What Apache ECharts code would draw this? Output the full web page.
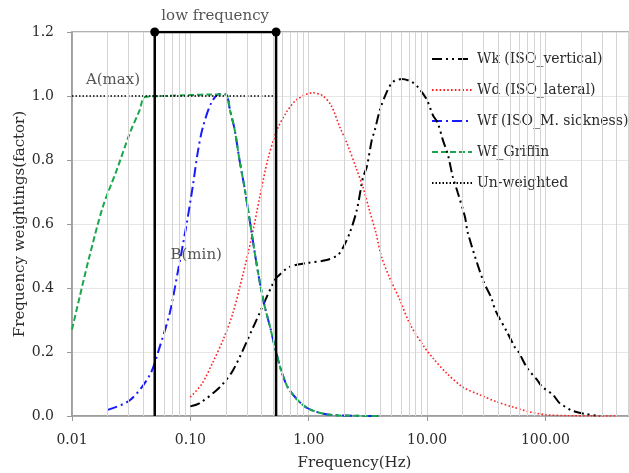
<!DOCTYPE html>
<html><head><meta charset="utf-8">
<script src="https://cdn.jsdelivr.net/npm/echarts@6/dist/echarts.min.js"></script>
<style>html,body{margin:0;padding:0;background:#fff}#c{width:629px;height:473px}</style>
</head><body><div id="c"></div>
<script>
// ---- data ----
const wkFreq = [0.1, 0.12, 0.177, 0.23, 0.34, 0.5, 0.54, 0.69, 0.96, 1.42, 1.76, 1.94, 2.22, 2.55, 2.87, 3.1, 3.41, 3.62, 3.99, 4.57, 5.14, 6.12, 7.44, 8.36, 9.96, 11.2, 12.3, 13.6, 15.0, 16.5, 18.2, 20.9, 22.1, 29.6, 34.9, 37.7, 47.9, 55, 60, 70, 85, 94, 116, 131, 148, 170, 220, 290];
const wkVal  = [0.03, 0.04, 0.09, 0.144, 0.278, 0.415, 0.434, 0.466, 0.478, 0.4875, 0.503, 0.525, 0.572, 0.644, 0.744, 0.78, 0.862, 0.894, 0.956, 1.013, 1.044, 1.053, 1.044, 1.028, 0.988, 0.94, 0.916, 0.862, 0.816, 0.747, 0.697, 0.622, 0.572, 0.425, 0.369, 0.331, 0.259, 0.216, 0.197, 0.15, 0.113, 0.091, 0.066, 0.041, 0.028, 0.016, 0.006, 0];
const wdFreq = [0.1, 0.125, 0.154, 0.19, 0.228, 0.277, 0.33, 0.386, 0.45, 0.54, 0.65, 0.79, 1.08, 1.32, 1.55, 1.83, 2.1, 2.55, 2.87, 3.25, 3.7, 4.1, 4.85, 5.9, 7.1, 9.2, 11.2, 14.6, 19.9, 27.9, 38.9, 53, 73, 101, 150, 400];
const wdVal  = [0.059, 0.1, 0.166, 0.24, 0.32, 0.44, 0.56, 0.685, 0.8, 0.894, 0.95, 0.988, 1.01, 1.0, 0.97, 0.903, 0.853, 0.769, 0.716, 0.644, 0.572, 0.5, 0.43, 0.3625, 0.29, 0.222, 0.181, 0.134, 0.091, 0.066, 0.044, 0.028, 0.013, 0.004, 0.001, 0];
const wfFreq = [0.02, 0.031, 0.0454, 0.0551, 0.067, 0.078, 0.093, 0.105, 0.115, 0.127, 0.151, 0.177, 0.2, 0.216, 0.237, 0.26, 0.286, 0.317, 0.35, 0.385, 0.42, 0.47, 0.53, 0.6, 0.69, 0.97, 1.6, 4];
const wfVal  = [0.019, 0.05, 0.128, 0.216, 0.322, 0.447, 0.6, 0.72, 0.82, 0.9, 0.98, 1.006, 1.005, 0.956, 0.894, 0.8, 0.716, 0.6125, 0.51, 0.42, 0.35, 0.28, 0.2, 0.13, 0.08, 0.025, 0.003, 0];
const wgFreq = [0.01, 0.0116, 0.014, 0.0182, 0.0239, 0.0308, 0.0373, 0.0412, 0.06, 0.1, 0.15, 0.2, 0.216, 0.237, 0.26, 0.286, 0.317, 0.35, 0.385, 0.42, 0.47, 0.53, 0.6, 0.69, 0.97, 1.6, 4];
const wgVal  = [0.27, 0.372, 0.497, 0.653, 0.769, 0.884, 0.956, 0.997, 1.0, 1.003, 1.005, 1.005, 0.956, 0.894, 0.8, 0.716, 0.6125, 0.51, 0.42, 0.35, 0.28, 0.2, 0.13, 0.08, 0.025, 0.003, 0];
const unFreq = [0.01, 0.5];
const unVal  = [1, 1];
const lfFreq = [0.05, 0.05, 0.53, 0.53];
const lfVal  = [0, 1.2, 1.2, 0];
const noteText = ['low frequency', 'A(max)', 'B(min)'];
const noteFreq = [0.162, 0.0222, 0.112];
const noteVal  = [1.2, 1.05, 0.503];
const X_MIN = 0.01, X_MAX = 508;
const minorGrid = [];
[0.01, 0.1, 1, 10, 100].forEach(d => { for (let k = 2; k <= 9; k++) { const v = +(d * k).toPrecision(3); if (v < X_MAX) minorGrid.push(v); } });
const seriesNames = ['Wk (ISO_vertical)', 'Wd (ISO_lateral)', 'Wf (ISO_M. sickness)', 'Wf_Griffin', 'Un-weighted'];

const zip = (a, b) => a.map((x, i) => [x, b[i]]);
const FONT = 'DejaVu Serif';
const TXT = '#2a2a2a';
const isPow10 = v => Math.abs(Math.log10(v) - Math.round(Math.log10(v))) < 1e-6;

const chart = echarts.init(document.getElementById('c'), null, {renderer: 'canvas'});
chart.setOption({
  animation: false,
  textStyle: {fontFamily: FONT, color: TXT},
  grid: {left: 72, right: 0, top: 32, bottom: 57, containLabel: false, outerBoundsMode: 'none',
    show: true, borderColor: '#999', borderWidth: 1.5},
  legend: {
    orient: 'vertical', left: 426, top: 47, itemWidth: 40, itemHeight: 14, itemGap: 17,
    data: seriesNames, textStyle: {fontFamily: FONT, fontSize: 14, color: TXT},
    itemStyle: {opacity: 0}
  },
  xAxis: {
    type: 'log', logBase: 10, min: X_MIN, max: X_MAX,
    name: 'Frequency(Hz)', nameLocation: 'middle', nameGap: 40, nameMoveOverlap: false,
    nameTextStyle: {fontFamily: FONT, fontSize: 15, color: TXT, padding: [0, 0, 0, 8]},
    axisLine: {lineStyle: {color: '#999', width: 1.5}},
    axisTick: {show: true, length: 5, lineStyle: {color: '#999'}},
    axisLabel: {fontFamily: FONT, fontSize: 14, color: TXT, margin: 17,
      formatter: v => isPow10(v) ? v.toFixed(2) : ''},
    splitLine: {show: true, lineStyle: {color: '#d4d4d4', width: 1}}
  },
  yAxis: {
    type: 'value', min: 0, max: 1.2, interval: 0.2,
    name: 'Frequency weightings(factor)', nameLocation: 'middle', nameGap: 44, nameMoveOverlap: false,
    nameTextStyle: {fontFamily: FONT, fontSize: 15, color: TXT},
    axisLine: {show: true, lineStyle: {color: '#999', width: 1.5}},
    axisTick: {show: true, length: 5, lineStyle: {color: '#999'}},
    axisLabel: {fontFamily: FONT, fontSize: 14, color: TXT, margin: 18, formatter: v => v.toFixed(1)},
    splitLine: {show: true, lineStyle: {color: '#e6e6e6', width: 1}}
  },
  series: [
    {name: 'minor', type: 'line', data: [], silent: true,
      markLine: {silent: true, symbol: 'none', label: {show: false}, animation: false,
        lineStyle: {color: '#d4d4d4', width: 1, type: 'solid'},
        data: minorGrid.map(v => ({xAxis: v}))}},
    {name: 'lowfreq', type: 'line', z: 5, symbol: 'circle', symbolSize: 9, showSymbol: true,
      itemStyle: {color: '#000'}, lineStyle: {color: '#000', width: 2.5},
      data: zip(lfFreq, lfVal).map((p, i) => ({value: p, symbol: (i === 1 || i === 2) ? 'circle' : 'none'}))},
    {name: seriesNames[0], type: 'line', symbol: 'none', smooth: 0.3, z: 4,
      itemStyle: {color: '#000'}, lineStyle: {color: '#000', width: 2, type: [10, 4, 2, 4, 2, 4]}, data: zip(wkFreq, wkVal)},
    {name: seriesNames[1], type: 'line', symbol: 'none', smooth: 0.3, z: 4,
      itemStyle: {color: '#ff2020'}, lineStyle: {color: '#ff2020', width: 1.6, type: [1.6, 2.2]}, data: zip(wdFreq, wdVal)},
    {name: seriesNames[2], type: 'line', symbol: 'none', smooth: 0.3, z: 4,
      itemStyle: {color: '#1a1aff'}, lineStyle: {color: '#1a1aff', width: 2, type: [10, 4, 2, 4]}, data: zip(wfFreq, wfVal)},
    {name: seriesNames[3], type: 'line', symbol: 'none', smooth: 0.3, z: 4,
      itemStyle: {color: '#1aa64a'}, lineStyle: {color: '#1aa64a', width: 2, type: [6, 3]}, data: zip(wgFreq, wgVal)},
    {name: seriesNames[4], type: 'line', symbol: 'none', z: 4,
      itemStyle: {color: '#000'}, lineStyle: {color: '#000', width: 1.5, type: [1.5, 2]}, data: zip(unFreq, unVal)},
    {name: 'notes', type: 'scatter', symbolSize: 0, z: 6, silent: true,
      data: noteText.map((t, i) => ({name: t, value: [noteFreq[i], noteVal[i]],
        label: {position: i === 0 ? 'top' : 'inside', distance: 8}})),
      label: {show: true, formatter: p => p.name, fontFamily: FONT, fontSize: 15, color: TXT}}
  ]
});
</script></body></html>
